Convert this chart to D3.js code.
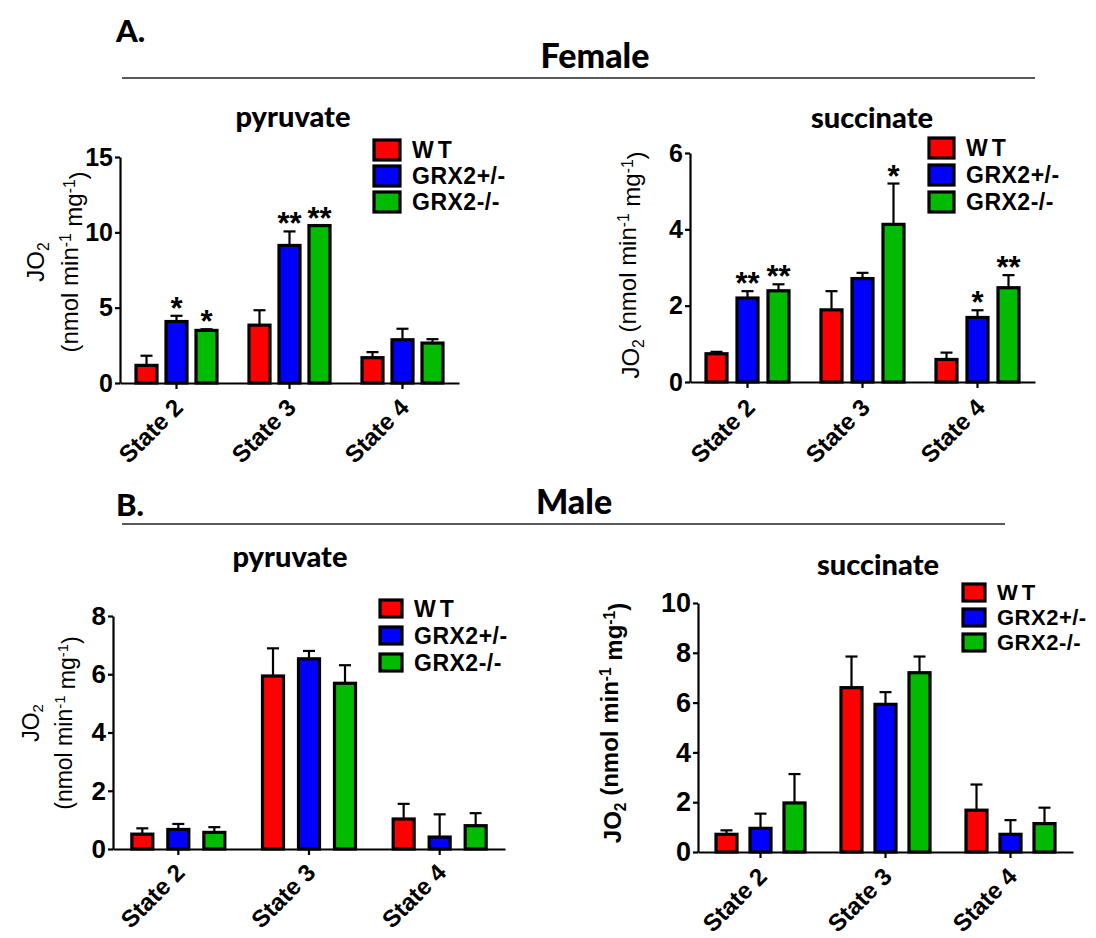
<!DOCTYPE html>
<html>
<head>
<meta charset="utf-8">
<script src="https://cdn.jsdelivr.net/npm/d3@7"></script>
<style>
  body { margin: 0; background: #fff; }
  svg { display: block; }
  .axis path, .axis line { stroke: #000; stroke-width: 2.2px; }
  .tick-lbl { font-family: "Liberation Sans", Arial, sans-serif; font-weight: bold; }
</style>
</head>
<body>
<svg id="chart" width="1096" height="938"></svg>
<script>
// categories
const states = ["State 2", "State 3", "State 4"];
const genotypes = ["WT", "GRX2+/-", "GRX2-/-"];
const genoColors = ["#ff0000", "#0000ff", "#00bb00"];

// female, pyruvate (rows = state, cols = genotype)
const femPyrMean = [[1.17, 4.08, 3.49], [3.84, 9.13, 10.45], [1.68, 2.87, 2.65]];
const femPyrSem  = [[0.64, 0.38, 0.08], [0.99, 0.93, 0.0], [0.37, 0.73, 0.26]];
const femPyrSig  = [["", "*", "*"], ["", "**", "**"], ["", "", ""]];

// female, succinate
const femSucMean = [[0.74, 2.2, 2.39], [1.89, 2.71, 4.13], [0.59, 1.69, 2.47]];
const femSucSem  = [[0.05, 0.18, 0.17], [0.49, 0.15, 1.07], [0.18, 0.19, 0.33]];
const femSucSig  = [["", "**", "**"], ["", "", "*"], ["", "*", "**"]];

// male, pyruvate
const malePyrMean = [[0.51, 0.67, 0.57], [5.94, 6.53, 5.69], [1.03, 0.41, 0.8]];
const malePyrSem  = [[0.2, 0.19, 0.18], [0.95, 0.27, 0.62], [0.52, 0.78, 0.43]];
const malePyrSig  = [["", "", ""], ["", "", ""], ["", "", ""]];

// male, succinate
const maleSucMean = [[0.71, 0.95, 1.97], [6.6, 5.93, 7.2], [1.68, 0.71, 1.14]];
const maleSucSem  = [[0.16, 0.59, 1.16], [1.25, 0.49, 0.65], [1.03, 0.57, 0.64]];
const maleSucSig  = [["", "", ""], ["", "", ""], ["", "", ""]];

// y ticks per panel
const femPyrTicks = [0, 5, 10, 15];
const femSucTicks = [0, 2, 4, 6];
const malePyrTicks = [0, 2, 4, 6, 8];
const maleSucTicks = [0, 2, 4, 6, 8, 10];

const svg = d3.select("#chart");
const titleFont = "Lato, 'Open Sans', sans-serif";
const arial = "'Liberation Sans', Arial, sans-serif";

// section headers
function header(letter, label, ly, cx, lineY, x2) {
  svg.append("text").attr("x", 116).attr("y", ly)
    .style("font-family", titleFont).style("font-weight", "900").style("font-size", "31px")
    .text(letter);
  svg.append("text").attr("x", cx).attr("y", lineY - 10)
    .attr("text-anchor", "middle")
    .style("font-family", titleFont).style("font-weight", "900").style("font-size", "34px")
    .text(label);
  svg.append("line").attr("x1", 122).attr("x2", x2).attr("y1", lineY).attr("y2", lineY)
    .attr("stroke", "#222").attr("stroke-width", 1.6);
}
header("A.", "Female", 42, 595, 78, 1035);
header("B.", "Male", 516, 574, 524, 1005);

function drawPanel(cfg) {
  const y = d3.scaleLinear().domain([0, cfg.ticks[cfg.ticks.length - 1]]).range([cfg.y0, cfg.yTop]);
  const x0 = d3.scaleBand().domain(states).range([cfg.xL, cfg.xR]);
  const x1 = d3.scalePoint().domain(genotypes).range([-cfg.gap, cfg.gap]);
  const g = svg.append("g");

  // title
  g.append("text").attr("x", cfg.titleX).attr("y", cfg.titleY)
    .attr("text-anchor", "middle")
    .style("font-family", titleFont).style("font-weight", "900").style("font-size", "29px")
    .text(cfg.title);

  // y axis
  const ya = g.append("g").attr("class", "axis")
    .attr("transform", `translate(${cfg.xL},0)`)
    .call(d3.axisLeft(y).tickValues(cfg.ticks).tickSize(5).tickSizeOuter(0).tickFormat(d3.format("d")));
  ya.selectAll("text").attr("class", "tick-lbl").attr("x", -7)
    .style("font-size", cfg.tickSize + "px").attr("fill", "#000");

  // x axis
  const xa = g.append("g").attr("class", "axis")
    .attr("transform", `translate(0,${cfg.y0})`)
    .call(d3.axisBottom(x0).tickSize(6).tickSizeOuter(0));
  xa.selectAll("text")
    .attr("class", "tick-lbl")
    .attr("x", 0).attr("y", 0).attr("dy", "0.35em")
    .attr("transform", `translate(${cfg.xlDx},${cfg.xlDy}) rotate(-45)`)
    .style("text-anchor", "end").style("font-size", "24px").attr("fill", "#000");

  // bars
  const rows = [];
  states.forEach((s, i) => genotypes.forEach((gt, j) => {
    rows.push({ s, gt, j, m: cfg.mean[i][j], e: cfg.sem[i][j], sig: cfg.sig[i][j] });
  }));
  const cx = d => x0(d.s) + x0.bandwidth() / 2 + x1(d.gt);

  // error bars (upper only)
  const eb = g.selectAll(".eb").data(rows).enter().append("g");
  eb.append("line")
    .attr("x1", cx).attr("x2", cx)
    .attr("y1", d => y(d.m)).attr("y2", d => y(d.m + d.e))
    .attr("stroke", "#000").attr("stroke-width", 2.2);
  eb.append("line")
    .attr("x1", d => cx(d) - 6).attr("x2", d => cx(d) + 6)
    .attr("y1", d => y(d.m + d.e)).attr("y2", d => y(d.m + d.e))
    .attr("stroke", "#000").attr("stroke-width", 2.2);

  g.selectAll(".bar").data(rows).enter().append("rect")
    .attr("x", d => cx(d) - cfg.barW / 2)
    .attr("width", cfg.barW)
    .attr("y", d => y(d.m))
    .attr("height", d => y(0) - y(d.m))
    .attr("fill", d => genoColors[d.j])
    .attr("stroke", "#000").attr("stroke-width", 3.2);

  // significance stars
  g.selectAll(".sig").data(rows.filter(d => d.sig)).enter().append("text")
    .attr("x", cx).attr("y", d => y(d.m + d.e) + 3)
    .attr("text-anchor", "middle")
    .style("font-family", arial).style("font-weight", "bold").style("font-size", "31px")
    .text(d => d.sig);

  // y label
  const yl = g.append("text")
    .attr("transform", `translate(${cfg.ylX},${cfg.ylY}) rotate(-90)`)
    .attr("text-anchor", "middle")
    .style("font-family", arial).style("font-weight", cfg.ylBold ? "bold" : "normal")
    .style("font-size", cfg.ylSize + "px");
  function unitParts(t) {
    t.append("tspan").text("(nmol min");
    t.append("tspan").attr("dy", "-0.45em").style("font-size", "0.65em").text("-1");
    t.append("tspan").attr("dy", "0.45em").text(" mg");
    t.append("tspan").attr("dy", "-0.45em").style("font-size", "0.65em").text("-1");
    t.append("tspan").attr("dy", "0.45em").text(")");
  }
  if (cfg.ylTwoLine) {
    const l1 = yl.append("tspan").attr("x", 0).attr("y", -cfg.ylGap / 2);
    l1.append("tspan").text("JO");
    l1.append("tspan").attr("dy", "0.3em").style("font-size", "0.65em").text("2");
    const l2 = yl.append("tspan").attr("x", 0).attr("y", cfg.ylGap / 2);
    unitParts(l2);
  } else {
    yl.append("tspan").text("JO");
    yl.append("tspan").attr("dy", "0.3em").style("font-size", "0.65em").text("2");
    yl.append("tspan").attr("dy", "-0.3em").text(" ");
    unitParts(yl);
  }

  // legend
  const lg = g.append("g").attr("transform", `translate(${cfg.legX},${cfg.legY})`);
  genotypes.forEach((gt, j) => {
    const r = lg.append("g").attr("transform", `translate(0,${j * cfg.legStep})`);
    r.append("rect").attr("x", 0).attr("y", 0).attr("width", cfg.swW).attr("height", cfg.swH)
      .attr("fill", genoColors[j]).attr("stroke", "#000").attr("stroke-width", 3.2);
    r.append("text").attr("x", cfg.swW + 12).attr("y", cfg.swH / 2).attr("dy", "0.36em")
      .style("font-family", arial).style("font-weight", "bold").style("font-size", cfg.legSize + "px")
      .style("letter-spacing", gt === "WT" ? "4px" : "0.5px")
      .text(gt);
  });
}

const panels = [
  { title: "pyruvate", titleX: 293, titleY: 127, mean: femPyrMean, sem: femPyrSem, sig: femPyrSig,
    ticks: femPyrTicks, tickSize: 25, xL: 120, xR: 459, y0: 383, yTop: 157, gap: 30, barW: 21,
    xlDx: 2, xlDy: 20,
    ylTwoLine: true, ylX: 61, ylY: 262, ylGap: 34, ylSize: 24, ylBold: false,
    legX: 374, legY: 140, legStep: 26, swW: 26, swH: 20, legSize: 23 },
  { title: "succinate", titleX: 872, titleY: 128, mean: femSucMean, sem: femSucSem, sig: femSucSig,
    ticks: femSucTicks, tickSize: 25, xL: 690, xR: 1035, y0: 382, yTop: 153, gap: 31, barW: 21,
    xlDx: 3, xlDy: 21,
    ylTwoLine: false, ylX: 639, ylY: 265, ylGap: 0, ylSize: 24, ylBold: false,
    legX: 929, legY: 138, legStep: 27, swW: 25, swH: 20, legSize: 23 },
  { title: "pyruvate", titleX: 290, titleY: 567, mean: malePyrMean, sem: malePyrSem, sig: malePyrSig,
    ticks: malePyrTicks, tickSize: 26, xL: 113, xR: 505, y0: 849, yTop: 616, gap: 36, barW: 21,
    xlDx: 2, xlDy: 19,
    ylTwoLine: true, ylX: 55, ylY: 723, ylGap: 33, ylSize: 23, ylBold: false,
    legX: 380, legY: 600, legStep: 27, swW: 22, swH: 17, legSize: 23 },
  { title: "succinate", titleX: 878, titleY: 575, mean: maleSucMean, sem: maleSucSem, sig: maleSucSig,
    ticks: maleSucTicks, tickSize: 27, xL: 698, xR: 1073, y0: 852, yTop: 603, gap: 34, barW: 21,
    xlDx: 2, xlDy: 20,
    ylTwoLine: false, ylX: 621, ylY: 723, ylGap: 0, ylSize: 24, ylBold: true,
    legX: 963, legY: 584, legStep: 25, swW: 22, swH: 17, legSize: 22 }
];
panels.forEach(drawPanel);
</script>
</body>
</html>
